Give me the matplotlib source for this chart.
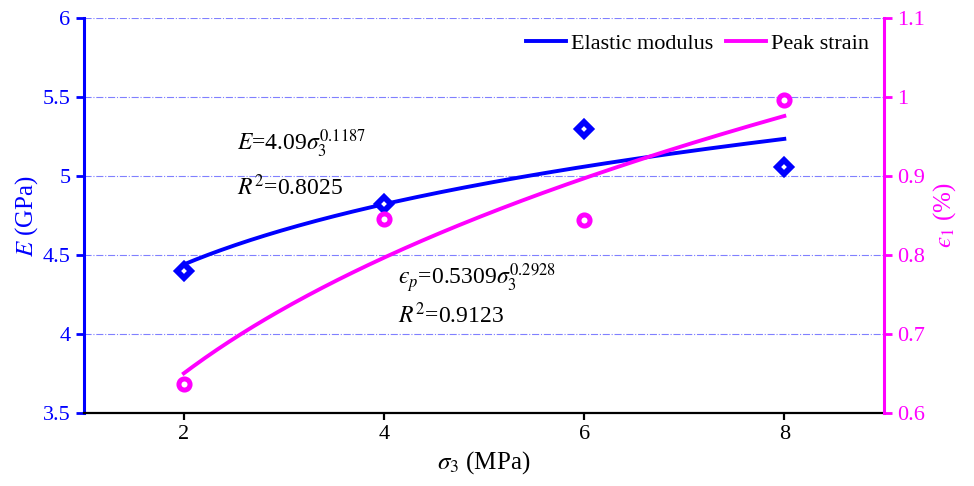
import numpy as np
import matplotlib.pyplot as plt

plt.rcParams['font.family'] = ['Liberation Serif', 'DejaVu Serif']
plt.rcParams['mathtext.fontset'] = 'stix'

sigma3 = [2, 4, 6, 8]
E_vals = [4.40, 4.82, 5.30, 5.06]
strain_vals = [0.637, 0.846, 0.844, 0.996]

# fitted power laws
E_a, E_b = 4.09, 0.1187
s_a, s_b = 0.5309, 0.2928

BLUE = '#0000ff'
MAG = '#ff00ff'
EPS = '\u03f5'  # lunate epsilon

fig, ax = plt.subplots(figsize=(9.74, 4.86), dpi=100)
fig.subplots_adjust(left=0.086, right=0.908, top=0.963, bottom=0.15)
ax2 = ax.twinx()

xf = np.linspace(2, 8, 200)
ax.plot(xf, E_a * xf ** E_b, color=BLUE, lw=2.8, label='Elastic modulus', zorder=3)
ax.plot(sigma3, E_vals, ls='none', marker='D', ms=7.5, mfc='white', mec=BLUE, mew=4.2, zorder=4)
ax2.plot(xf, s_a * xf ** s_b, color=MAG, lw=2.8, label='Peak strain', zorder=3)
ax2.plot(sigma3, strain_vals, ls='none', marker='o', ms=8, mfc='white', mec=MAG, mew=3.6, zorder=4)

ax.set_xlim(1, 9)
ax.set_ylim(3.5, 6)
ax2.set_ylim(0.6, 1.1)
ax.set_xticks(sigma3)
ax.set_yticks([3.5, 4, 4.5, 5, 5.5, 6])
ax.set_yticklabels(['3.5', '4', '4.5', '5', '5.5', '6'])
ax2.set_yticks([0.6, 0.7, 0.8, 0.9, 1.0, 1.1])
ax2.set_yticklabels(['0.6', '0.7', '0.8', '0.9', '1', '1.1'])

ax.yaxis.grid(True, color='#8080ff', ls='-.', lw=0.8)

for a in (ax, ax2):
    a.spines['top'].set_visible(False)
ax.spines['right'].set_visible(False)
ax.spines['left'].set_color(BLUE)
ax.spines['left'].set_linewidth(2.2)
ax.spines['bottom'].set_linewidth(1.6)
ax2.spines['right'].set_color(MAG)
ax2.spines['right'].set_linewidth(2.2)
ax2.spines['left'].set_visible(False)
ax2.spines['bottom'].set_visible(False)

ax.tick_params(axis='x', labelsize=16, width=1.6, length=5)
ax.tick_params(axis='y', colors=BLUE, labelsize=16, width=2, length=6)
ax2.tick_params(axis='y', colors=MAG, labelsize=16, width=2, length=6)

ax.set_xlabel(r'$\sigma_3$ (MPa)', fontsize=18, labelpad=4)
ax.set_ylabel(r'$E$ (GPa)', fontsize=18, color=BLUE, labelpad=2)
ax2.set_ylabel('$' + EPS + '_1$ (%)', fontsize=18, color=MAG, labelpad=4)

ax.text(2.53, 5.16, r'$E$=4.09$\sigma_3^{0.1187}$', fontsize=17)
ax.text(2.53, 4.88, r'$R^2$=0.8025', fontsize=17)
ax.text(4.14, 4.31, '$' + EPS + r'_p$=0.5309$\sigma_3^{0.2928}$', fontsize=17)
ax.text(4.14, 4.07, r'$R^2$=0.9123', fontsize=17)

h1, l1 = ax.get_legend_handles_labels()
h2, l2 = ax2.get_legend_handles_labels()
ax2.legend(h1 + h2, l1 + l2, loc='upper right', ncol=2, frameon=False,
           fontsize=16, handlelength=1.8, handletextpad=0.2, columnspacing=0.6,
           borderaxespad=0.3)

fig.savefig('out.png', dpi=100)
